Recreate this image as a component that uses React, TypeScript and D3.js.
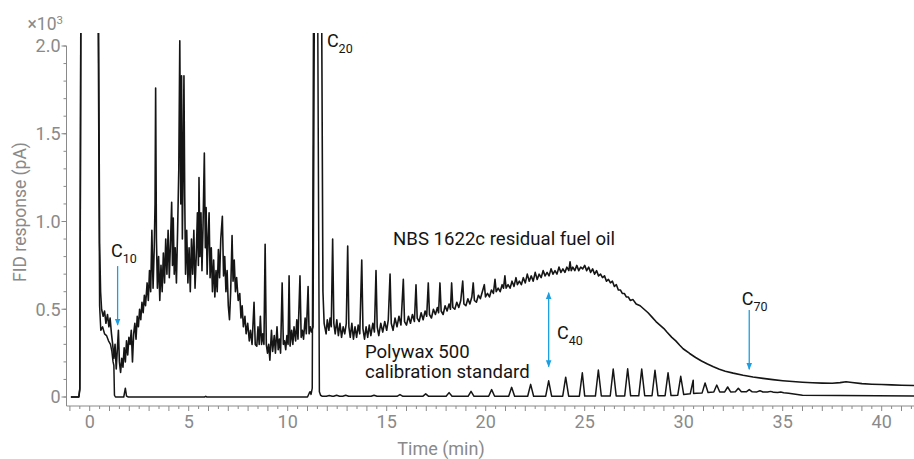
import React from "react";
import * as d3 from "d3";

const W = 914;
const H = 459;

// axis ticks
const yTickValues = [0, 0.5, 1.0, 1.5, 2.0];
const yTickLabels = ["0", "0.5", "1.0", "1.5", "2.0"];
const xTickValues = [0, 5, 10, 15, 20, 25, 30, 35, 40];
const xTickLabels = ["0", "5", "10", "15", "20", "25", "30", "35", "40"];

// NBS 1622c residual fuel oil trace, [time (min), response (x10^3 pA)]
const fuelOil: [number, number][] = [
  [-0.95, 0], [-0.55, 0], [-0.5, 0.04], [-0.45, 2.1], [0.45, 2.1], [0.5, 0.88], [0.55, 0.6], [0.6, 0.5],
  [0.68, 0.46], [0.75, 0.49], [0.82, 0.42], [0.9, 0.47], [0.97, 0.4], [1.03, 0.45], [1.1, 0.36], [1.16, 0.3],
  [1.22, 0.22], [1.28, 0.3], [1.34, 0.16], [1.4, 0.28], [1.45, 0.38], [1.5, 0.2], [1.56, 0.14], [1.62, 0.22],
  [1.68, 0.17], [1.74, 0.28], [1.8, 0.2], [1.86, 0.32], [1.92, 0.24], [1.98, 0.34], [2.04, 0.3], [2.1, 0.38],
  [2.16, 0.2], [2.22, 0.36], [2.28, 0.42], [2.34, 0.33], [2.4, 0.46], [2.46, 0.4], [2.52, 0.5], [2.58, 0.44],
  [2.64, 0.54], [2.7, 0.48], [2.76, 0.58], [2.82, 0.52], [2.9, 0.65], [2.96, 0.55], [3.02, 0.72], [3.08, 0.6],
  [3.14, 0.95], [3.2, 0.62], [3.26, 0.85], [3.3, 1.1], [3.33, 1.76], [3.37, 0.9], [3.42, 0.62], [3.48, 0.8],
  [3.54, 0.55], [3.6, 0.75], [3.66, 0.6], [3.72, 0.82], [3.78, 0.65], [3.84, 0.9], [3.9, 0.7], [3.96, 0.95],
  [4.02, 0.68], [4.08, 0.88], [4.14, 1.11], [4.18, 0.75], [4.22, 1.02], [4.27, 0.7], [4.32, 0.85], [4.38, 0.65],
  [4.44, 0.95], [4.5, 1.3], [4.55, 2.03], [4.6, 1.1], [4.64, 1.83], [4.68, 0.9], [4.72, 1.3], [4.76, 1.83],
  [4.8, 1.14], [4.84, 0.7], [4.9, 0.95], [4.96, 0.65], [5.02, 0.85], [5.08, 0.6], [5.14, 0.9], [5.2, 0.7],
  [5.26, 0.95], [5.32, 0.62], [5.38, 0.8], [5.44, 1.05], [5.49, 0.75], [5.52, 1.25], [5.57, 0.8], [5.62, 1.05],
  [5.67, 0.72], [5.72, 0.95], [5.79, 1.39], [5.84, 0.85], [5.88, 1.08], [5.93, 0.7], [5.98, 0.9], [6.03, 1.05],
  [6.08, 0.68], [6.14, 0.85], [6.2, 0.6], [6.26, 0.78], [6.32, 0.57], [6.38, 0.72], [6.44, 0.6], [6.5, 0.84],
  [6.56, 0.68], [6.62, 0.9], [6.7, 1.03], [6.76, 0.69], [6.82, 0.8], [6.88, 0.6], [6.94, 0.72], [7.0, 0.52],
  [7.06, 0.44], [7.12, 0.6], [7.19, 0.92], [7.24, 0.66], [7.3, 0.78], [7.36, 0.6], [7.42, 0.68], [7.5, 0.55],
  [7.58, 0.59], [7.64, 0.45], [7.7, 0.52], [7.76, 0.4], [7.84, 0.46], [7.9, 0.36], [7.98, 0.42], [8.06, 0.32],
  [8.12, 0.38], [8.2, 0.3], [8.3, 0.54], [8.36, 0.3], [8.44, 0.29], [8.5, 0.4], [8.56, 0.3], [8.62, 0.46],
  [8.68, 0.3], [8.74, 0.36], [8.8, 0.3], [8.86, 0.87], [8.92, 0.3], [8.98, 0.25], [9.04, 0.3], [9.1, 0.21],
  [9.18, 0.38], [9.24, 0.26], [9.32, 0.35], [9.38, 0.25], [9.46, 0.4], [9.52, 0.27], [9.58, 0.33], [9.64, 0.25],
  [9.72, 0.65], [9.78, 0.3], [9.84, 0.32], [9.9, 0.27], [9.96, 0.35], [10.02, 0.3], [10.07, 0.69], [10.12, 0.29],
  [10.2, 0.38], [10.26, 0.3], [10.32, 0.4], [10.4, 0.32], [10.46, 0.44], [10.52, 0.33], [10.62, 0.69], [10.68, 0.34],
  [10.74, 0.38], [10.8, 0.33], [10.88, 0.45], [10.94, 0.36], [11.03, 0.63], [11.08, 0.36], [11.14, 0.4], [11.2, 0.37],
  [11.28, 0.4], [11.34, 2.1], [11.72, 2.1], [11.78, 0.6], [11.84, 0.42], [11.94, 0.36], [12.0, 0.44], [12.08, 0.38],
  [12.14, 0.45], [12.2, 0.4], [12.27, 0.9], [12.33, 0.42], [12.4, 0.36], [12.48, 0.44], [12.56, 0.35], [12.64, 0.42],
  [12.72, 0.34], [12.8, 0.4], [12.88, 0.36], [12.96, 0.42], [13.03, 0.86], [13.09, 0.4], [13.16, 0.34], [13.24, 0.42],
  [13.32, 0.33], [13.4, 0.4], [13.48, 0.34], [13.56, 0.41], [13.64, 0.36], [13.74, 0.78], [13.8, 0.39], [13.88, 0.33],
  [13.96, 0.4], [14.04, 0.34], [14.12, 0.41], [14.2, 0.35], [14.3, 0.42], [14.38, 0.37], [14.46, 0.72], [14.52, 0.4],
  [14.6, 0.35], [14.7, 0.42], [14.8, 0.37], [14.9, 0.43], [15.0, 0.38], [15.08, 0.44], [15.17, 0.7], [15.23, 0.42],
  [15.32, 0.38], [15.42, 0.45], [15.52, 0.4], [15.62, 0.46], [15.72, 0.41], [15.84, 0.67], [15.9, 0.43], [16.0, 0.41],
  [16.1, 0.46], [16.2, 0.42], [16.3, 0.47], [16.4, 0.43], [16.48, 0.64], [16.54, 0.45], [16.64, 0.43], [16.74, 0.48],
  [16.84, 0.44], [16.94, 0.49], [17.02, 0.46], [17.1, 0.65], [17.16, 0.47], [17.26, 0.45], [17.36, 0.5], [17.46, 0.47],
  [17.56, 0.51], [17.62, 0.48], [17.69, 0.65], [17.75, 0.49], [17.85, 0.47], [17.95, 0.52], [18.05, 0.49], [18.15, 0.53],
  [18.22, 0.5], [18.28, 0.65], [18.34, 0.51], [18.44, 0.5], [18.54, 0.54], [18.64, 0.51], [18.74, 0.55], [18.84, 0.66],
  [18.9, 0.53], [19.0, 0.52], [19.1, 0.56], [19.2, 0.53], [19.3, 0.57], [19.37, 0.65], [19.43, 0.55], [19.53, 0.54],
  [19.63, 0.58], [19.73, 0.56], [19.83, 0.6], [19.93, 0.64], [19.99, 0.57], [20.09, 0.59], [20.19, 0.57], [20.29, 0.61],
  [20.39, 0.59], [20.47, 0.67], [20.53, 0.6], [20.63, 0.62], [20.73, 0.6], [20.83, 0.64], [20.9, 0.62], [20.97, 0.69],
  [21.03, 0.62], [21.13, 0.64], [21.23, 0.62], [21.33, 0.66], [21.43, 0.63], [21.53, 0.68], [21.6, 0.64], [21.7, 0.66],
  [21.8, 0.64], [21.9, 0.68], [22.0, 0.65], [22.1, 0.7], [22.2, 0.66], [22.3, 0.69], [22.4, 0.66], [22.5, 0.71],
  [22.6, 0.67], [22.7, 0.7], [22.8, 0.68], [22.9, 0.72], [23.0, 0.69], [23.1, 0.71], [23.2, 0.69], [23.3, 0.73],
  [23.4, 0.7], [23.5, 0.72], [23.6, 0.7], [23.7, 0.74], [23.8, 0.71], [23.9, 0.73], [24.0, 0.71], [24.1, 0.74],
  [24.2, 0.72], [24.26, 0.77], [24.32, 0.72], [24.4, 0.74], [24.5, 0.72], [24.6, 0.75], [24.7, 0.72], [24.8, 0.74],
  [24.9, 0.73], [25.0, 0.75], [25.1, 0.72], [25.2, 0.74], [25.3, 0.71], [25.4, 0.73], [25.5, 0.7], [25.6, 0.72],
  [25.7, 0.69], [25.8, 0.7], [25.9, 0.68], [26.0, 0.69], [26.1, 0.66], [26.2, 0.67], [26.3, 0.65], [26.4, 0.66],
  [26.5, 0.63], [26.6, 0.64], [26.7, 0.61], [26.8, 0.61], [26.9, 0.59], [27.0, 0.59], [27.1, 0.57], [27.2, 0.57],
  [27.3, 0.55], [27.44, 0.555], [27.6, 0.53], [27.8, 0.52], [28.0, 0.5], [28.2, 0.48], [28.4, 0.455], [28.6, 0.43],
  [28.8, 0.41], [29.0, 0.39], [29.15, 0.37], [29.4, 0.34], [29.6, 0.32], [29.8, 0.295], [29.97, 0.275], [30.3, 0.248],
  [30.6, 0.225], [30.9, 0.205], [31.2, 0.188], [31.5, 0.172], [31.8, 0.158], [32.1, 0.147], [32.5, 0.136], [33.0, 0.124],
  [33.5, 0.114], [34.0, 0.106], [34.5, 0.099], [35.0, 0.093], [35.5, 0.088], [36.0, 0.084], [36.5, 0.081], [37.0, 0.079],
  [37.5, 0.078], [37.9, 0.082], [38.2, 0.087], [38.5, 0.083], [39.0, 0.076], [39.5, 0.073], [40.0, 0.071], [40.5, 0.069],
  [41.0, 0.067], [41.7, 0.065],
];

// Polywax 500 trace up to C20, [time, response]
const polywaxStart: [number, number][] = [
  [-0.95, 0], [-0.55, 0], [-0.5, 0.05], [-0.45, 2.1], [0.43, 2.1], [0.5, 0.52], [0.56, 0.38], [0.65, 0.4],
  [0.75, 0.36], [0.85, 0.35], [0.95, 0.32], [1.05, 0.3], [1.12, 0.26], [1.18, 0.2], [1.22, 0.18], [1.25, 0.01],
  [1.3, 0], [1.72, 0], [1.8, 0.05], [1.86, 0.005], [1.95, 0], [5.8, 0], [5.86, 0.004], [5.92, 0],
  [11.0, 0], [11.08, 0.02], [11.13, 0.03], [11.18, 0.015], [11.24, 0.05], [11.3, 2.1], [11.52, 2.1], [11.6, 0.03],
  [11.66, 0.01],
];

// Polywax baseline after C20
const polywaxBaseline: [number, number][] = [
  [11.75, 0.004], [20, 0.004], [25, 0.005], [29.5, 0.008], [30.5, 0.02], [31.5, 0.028], [33, 0.03],
  [34.5, 0.028], [35.3, 0.022], [36.0, 0.01], [41.7, 0.006],
];

// Polywax n-alkane peak apexes [time, response]
const polywaxPeaks: [number, number][] = [
  [12.1, 0.008], [12.47, 0.01], [12.93, 0.01], [14.36, 0.01], [15.67, 0.014], [16.97, 0.018], [18.15, 0.025],
  [19.26, 0.032], [20.3, 0.042], [21.31, 0.055], [22.27, 0.072], [23.18, 0.092], [24.04, 0.113], [24.88, 0.138],
  [25.69, 0.154], [26.44, 0.159], [27.17, 0.161], [27.88, 0.159], [28.55, 0.152], [29.21, 0.138], [29.85, 0.118],
  [30.48, 0.096], [31.08, 0.08], [31.67, 0.068], [32.22, 0.057], [32.76, 0.05], [33.31, 0.042], [33.85, 0.036],
  [34.39, 0.032], [34.9, 0.028],
];

const BLUE = "#1b9fe2";
const GREY = "#8a8a8a";
const INK = "#151515";
const FONT = "Roboto, sans-serif";

export default function App() {
  const x = d3.scaleLinear().domain([0, 40]).range([89.7, 881.7]);
  const y = d3.scaleLinear().domain([0, 2]).range([397, 46]);

  const left = 66.5;
  const axisY = 406;
  const plotTop = 33;

  // polywax line: start, then baseline + peaks merged
  const base = d3.scaleLinear()
    .domain(polywaxBaseline.map(d => d[0]))
    .range(polywaxBaseline.map(d => d[1]));
  const hw = 0.15;
  const rest: [number, number][] = polywaxBaseline.slice();
  polywaxPeaks.forEach(p => {
    rest.push([p[0] - hw, base(p[0] - hw)]);
    rest.push([p[0], p[1]]);
    rest.push([p[0] + hw, base(p[0] + hw)]);
  });
  rest.sort((a, b) => a[0] - b[0]);
  const polywax = polywaxStart.concat(rest);

  const line = d3.line<[number, number]>()
    .x(d => x(d[0]))
    .y(d => y(d[1]));

  const xMinor = d3.range(-1, 41.6, 0.5);
  const yMinor = d3.range(0, 2.01, 0.1);

  const label = (tx: number, ty: number, sub: string) => (
    <text x={tx} y={ty} fontFamily={FONT} fontSize={18} fill={INK}>
      C<tspan dy={6} fontSize={12.5}>{sub}</tspan>
    </text>
  );

  return (
    <svg width={W} height={H} style={{ position: "absolute", left: 0, top: 0, background: "#fff" }}>
      <defs>
        <clipPath id="plotClip">
          <rect x={left} y={plotTop} width={W - left} height={axisY - plotTop} />
        </clipPath>
        <marker id="arrowHead" viewBox="0 0 10 10" refX="9" refY="5" markerWidth="7" markerHeight="7"
          markerUnits="userSpaceOnUse" orient="auto-start-reverse">
          <path d="M0,1 L10,5 L0,9 z" fill={BLUE} />
        </marker>
      </defs>

      {/* traces */}
      <g clipPath="url(#plotClip)" fill="none" strokeLinejoin="round">
        <path d={line(polywax) || ""} stroke={INK} strokeWidth={1.5} />
        <path d={line(fuelOil) || ""} stroke={INK} strokeWidth={1.6} />
      </g>

      {/* y axis */}
      <g stroke={GREY} strokeWidth={1}>
        <line x1={left} x2={left} y1={y(2)} y2={axisY} />
        {yMinor.map(v => (
          <line key={"ym" + v} x1={left - 3} x2={left} y1={y(v)} y2={y(v)} />
        ))}
        {yTickValues.map(v => (
          <line key={"yt" + v} x1={left - 5} x2={left} y1={y(v)} y2={y(v)} />
        ))}
      </g>
      {yTickValues.map((v, i) => (
        <text key={"yl" + v} x={left - 6} y={y(v)} dy="0.36em" textAnchor="end"
          fontFamily={FONT} fontSize={18} fill={GREY}>{yTickLabels[i]}</text>
      ))}

      {/* x axis */}
      <g stroke={GREY} strokeWidth={1}>
        <line x1={left} x2={W} y1={axisY} y2={axisY} />
        {xMinor.map(v => (
          <line key={"xm" + v} x1={x(v)} x2={x(v)} y1={axisY} y2={axisY + (Number.isInteger(v) ? 5 : 3)} />
        ))}
      </g>
      {xTickValues.map((v, i) => (
        <text key={"xl" + v} x={x(v)} y={428} textAnchor="middle"
          fontFamily={FONT} fontSize={18} fill={GREY}>{xTickLabels[i]}</text>
      ))}

      {/* axis titles */}
      <text x={441} y={455} textAnchor="middle" fontFamily={FONT} fontSize={18} fill={GREY}>Time (min)</text>
      <text transform="translate(26,212) rotate(-90)" textAnchor="middle" fontFamily={FONT} fontSize={17.5} fill={GREY}>
        FID response (pA)
      </text>
      <text x={27.5} y={30} fontFamily={FONT} fontSize={17.5} fill={GREY}>
        ×10<tspan dy={-6} fontSize={11.5}>3</tspan>
      </text>

      {/* annotations */}
      <text x={x(15.32)} y={y(0.866)} fontFamily={FONT} fontSize={18.6} fill={INK}>NBS 1622c residual fuel oil</text>
      <text fontFamily={FONT} fontSize={18.6} fill={INK}>
        <tspan x={x(13.9)} y={y(0.222)}>Polywax 500</tspan>
        <tspan x={x(13.9)} y={y(0.108)}>calibration standard</tspan>
      </text>

      {label(x(1.08), y(0.797), "10")}
      {label(x(11.98), y(1.995), "20")}
      {label(x(23.6), y(0.33), "40")}
      {label(x(32.93), y(0.524), "70")}

      <g stroke={BLUE} strokeWidth={1.3}>
        <line x1={x(1.41)} x2={x(1.41)} y1={y(0.746)} y2={y(0.41)} markerEnd="url(#arrowHead)" />
        <line x1={x(23.18)} x2={x(23.18)} y1={y(0.594)} y2={y(0.173)}
          markerStart="url(#arrowHead)" markerEnd="url(#arrowHead)" />
        <line x1={x(33.31)} x2={x(33.31)} y1={y(0.496)} y2={y(0.158)} markerEnd="url(#arrowHead)" />
      </g>
    </svg>
  );
}
